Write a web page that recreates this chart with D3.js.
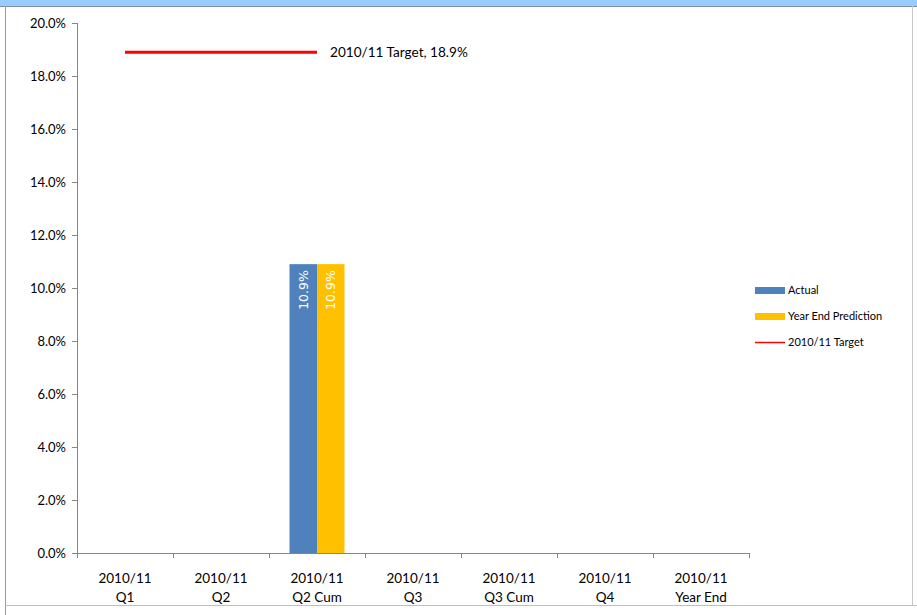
<!DOCTYPE html>
<html>
<head>
<meta charset="utf-8">
<script src="https://cdn.jsdelivr.net/npm/d3@7"></script>
<style>
  html, body { margin: 0; padding: 0; background: #fff; }
  svg { display: block; font-family: Lato, "Open Sans", sans-serif; }
</style>
</head>
<body>
<svg id="chart" width="917" height="615"></svg>
<script>
// Quarterly performance, 2010/11
const categories = [
  ["2010/11", "Q1"], ["2010/11", "Q2"], ["2010/11", "Q2 Cum"], ["2010/11", "Q3"],
  ["2010/11", "Q3 Cum"], ["2010/11", "Q4"], ["2010/11", "Year End"]
];
const actual = [null, null, 10.9, null, null, null, null];
const prediction = [null, null, 10.9, null, null, null, null];
const target = [18.9, 18.9, 18.9, null, null, null, null];
const yTicks = [0, 2, 4, 6, 8, 10, 12, 14, 16, 18, 20];
const seriesNames = ["Actual", "Year End Prediction", "2010/11 Target"];
const colors = { actual: "#4F81BD", prediction: "#FFC000", target: "#FF0000" };

const svg = d3.select("#chart");
const W = 917, H = 615;

// frame
svg.append("rect").attr("x", 0).attr("y", 0).attr("width", W).attr("height", 6).attr("fill", "#99CCFF");
svg.append("line").attr("x1", 0).attr("x2", W).attr("y1", 6.5).attr("y2", 6.5).attr("stroke", "#7f8fa0");
svg.append("line").attr("x1", 5.5).attr("x2", 5.5).attr("y1", 6).attr("y2", H).attr("stroke", "#9a9a9a");
svg.append("line").attr("x1", 912.5).attr("x2", 912.5).attr("y1", 6).attr("y2", 605).attr("stroke", "#c8c8c8");
svg.append("line").attr("x1", 5).attr("x2", W).attr("y1", 605.5).attr("y2", 605.5).attr("stroke", "#9cc8ee");

const plot = { left: 77, right: 749, top: 23, bottom: 553 };

const x = d3.scaleBand().domain(d3.range(categories.length))
  .range([plot.left, plot.right]).paddingInner(0).paddingOuter(0);
const y = d3.scaleLinear().domain([0, 20]).range([plot.bottom, plot.top]);

const axisColor = "#868686";

// y axis
const yAxis = svg.append("g").attr("transform", `translate(${plot.left},0)`)
  .call(d3.axisLeft(y).tickValues(yTicks).tickSize(5).tickPadding(6)
    .tickFormat(d => d.toFixed(1) + "%"));
yAxis.select(".domain").attr("stroke", axisColor).attr("d", `M0.5,${plot.top}V${plot.bottom}`);
yAxis.selectAll(".tick line").attr("stroke", axisColor);
yAxis.selectAll(".tick text").attr("fill", "#000").style("font-size", "13px")
  .style("font-family", "Lato, sans-serif");

// x axis line with ticks at category boundaries
const xAxisG = svg.append("g");
xAxisG.append("line").attr("x1", plot.left).attr("x2", plot.right)
  .attr("y1", plot.bottom + 0.5).attr("y2", plot.bottom + 0.5).attr("stroke", axisColor);
const boundaries = d3.range(categories.length + 1).map(i => i < categories.length ? x(i) : x(i - 1) + x.bandwidth());
xAxisG.selectAll(".xt").data(boundaries).join("line")
  .attr("x1", d => Math.round(d) + 0.5).attr("x2", d => Math.round(d) + 0.5)
  .attr("y1", plot.bottom).attr("y2", plot.bottom + 5).attr("stroke", axisColor);
const xl = xAxisG.selectAll(".xl").data(categories).join("text")
  .attr("text-anchor", "middle").attr("font-size", "13.5px").attr("fill", "#000");
xl.append("tspan").attr("x", (d, i) => x(i) + x.bandwidth() / 2).attr("y", 583).text(d => d[0]);
xl.append("tspan").attr("x", (d, i) => x(i) + x.bandwidth() / 2).attr("y", 602).text(d => d[1]);

// bars
const inner = d3.scaleBand().domain(["actual", "prediction"]).range([0, x.bandwidth()]).paddingOuter(0.745).paddingInner(0);
const barData = [];
categories.forEach((c, i) => {
  if (actual[i] != null) barData.push({ i, key: "actual", v: actual[i] });
  if (prediction[i] != null) barData.push({ i, key: "prediction", v: prediction[i] });
});
svg.selectAll(".bar").data(barData).join("rect")
  .attr("x", d => x(d.i) + inner(d.key))
  .attr("width", inner.bandwidth())
  .attr("y", d => y(d.v))
  .attr("height", d => y(0) - y(d.v))
  .attr("fill", d => colors[d.key]);
svg.selectAll(".barlabel").data(barData).join("text")
  .attr("transform", d => `translate(${x(d.i) + inner(d.key) + inner.bandwidth() / 2 + 4.5},${y(d.v) + 6}) rotate(-90)`)
  .attr("text-anchor", "end").attr("font-size", "12.5px").attr("fill", "#fff")
  .attr("font-family", "'DejaVu Sans', sans-serif")
  .text(d => d.v.toFixed(1) + "%");

// target line
const tPts = target.map((v, i) => ({ i, v })).filter(d => d.v != null);
svg.append("path").datum(tPts)
  .attr("d", d3.line().x(d => x(d.i) + x.bandwidth() / 2).y(d => y(d.v)))
  .attr("fill", "none").attr("stroke", colors.target).attr("stroke-width", 3);
const last = tPts[tPts.length - 1];
svg.append("text").attr("x", x(last.i) + x.bandwidth() / 2 + 13).attr("y", y(last.v) + 5)
  .attr("font-size", "13.6px").attr("fill", "#000")
  .text(`${seriesNames[2]}, ${last.v.toFixed(1)}%`);

// legend
const legend = svg.append("g").attr("transform", "translate(755,290)");
const lg = legend.selectAll("g").data(seriesNames).join("g")
  .attr("transform", (d, i) => `translate(0,${i * 26})`);
lg.each(function (d, i) {
  const g = d3.select(this);
  if (i < 2) {
    g.append("rect").attr("x", 0).attr("y", -3).attr("width", 30).attr("height", 7)
      .attr("fill", i === 0 ? colors.actual : colors.prediction);
  } else {
    g.append("line").attr("x1", 0).attr("x2", 30).attr("y1", 0.5).attr("y2", 0.5)
      .attr("stroke", colors.target).attr("stroke-width", 1.5);
  }
  g.append("text").attr("x", 33).attr("y", 4).attr("font-size", "11px").attr("fill", "#000").text(d);
});
</script>
</body>
</html>
